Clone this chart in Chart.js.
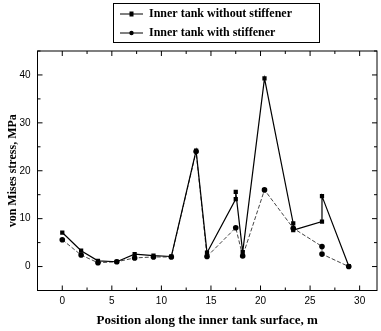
<!DOCTYPE html>
<html>
<head>
<meta charset="utf-8">
<script src="https://cdn.jsdelivr.net/npm/chart.js@4"></script>
<style>
  body { margin: 0; background: #fff; }
  #wrap { width: 381px; height: 331px; }
</style>
</head>
<body>
<div id="wrap"><canvas id="stress-chart" width="381" height="331"></canvas></div>
<script>
// positions along the surface (m) and von Mises stress (MPa)
var xWithout = [0, 1.9, 3.6, 5.5, 7.3, 9.2, 11.0, 13.5, 14.6, 17.5, 17.5, 18.2, 20.4, 23.3, 23.3, 26.2, 26.2, 28.9];
var yWithout = [7.1, 3.3, 1.2, 1.0, 2.6, 2.3, 2.1, 24.2, 2.9, 14.1, 15.6, 3.0, 39.3, 9.0, 7.6, 9.4, 14.7, 0.1];
var xWith = [0, 1.9, 3.6, 5.5, 7.3, 9.2, 11.0, 13.5, 14.6, 17.5, 18.2, 20.4, 23.3, 26.2, 26.2, 28.9];
var yWith = [5.6, 2.4, 0.8, 1.0, 1.8, 2.0, 2.0, 24.0, 2.1, 8.1, 2.2, 16.0, 8.0, 4.2, 2.6, 0.0];
var seriesNames = ["Inner tank without stiffener", "Inner tank with stiffener"];
var xTicks = [0, 5, 10, 15, 20, 25, 30];
var yTicks = [0, 10, 20, 30, 40];

function pts(xs, ys) {
    return xs.map(function (x, i) { return {x: x, y: ys[i]}; });
}

// frame, inward ticks and the boxed legend
var framePlugin = {
    id: 'frame',
    afterDraw: function (chart) {
        var ctx = chart.ctx, a = chart.chartArea;
        var sx = chart.scales.x, sy = chart.scales.y;
        ctx.save();
        ctx.strokeStyle = '#000';
        ctx.lineWidth = 1;
        ctx.strokeRect(a.left, a.top, a.right - a.left, a.bottom - a.top);
        ctx.beginPath();
        for (var v = -2.5; v <= sx.max; v += 2.5) {
            if (v < sx.min) continue;
            var len = (v % 5 === 0) ? 5 : 3;
            var px = sx.getPixelForValue(v);
            ctx.moveTo(px, a.bottom); ctx.lineTo(px, a.bottom - len);
            ctx.moveTo(px, a.top); ctx.lineTo(px, a.top + len);
        }
        for (var w = -5; w <= sy.max; w += 5) {
            var l2 = (w % 10 === 0) ? 5 : 3;
            var py = sy.getPixelForValue(w);
            ctx.moveTo(a.left, py); ctx.lineTo(a.left + l2, py);
            ctx.moveTo(a.right, py); ctx.lineTo(a.right - l2, py);
        }
        ctx.stroke();

        // legend
        ctx.fillStyle = '#fff';
        ctx.fillRect(113, 3, 206, 39);
        ctx.strokeRect(113.5, 3.5, 206, 39);
        var rows = [14, 33];
        chart.data.datasets.forEach(function (ds, i) {
            var y = rows[i];
            ctx.beginPath();
            ctx.strokeStyle = '#000';
            ctx.lineWidth = 1;
            ctx.moveTo(120, y); ctx.lineTo(143, y);
            ctx.stroke();
            ctx.fillStyle = '#000';
            if (i === 0) {
                ctx.fillRect(129.5, y - 2.5, 4, 5);
            } else {
                ctx.beginPath();
                ctx.arc(131.5, y, 2.2, 0, Math.PI * 2);
                ctx.fill();
            }
            ctx.font = 'bold 12px "Liberation Serif"';
            ctx.textBaseline = 'middle';
            ctx.textAlign = 'left';
            ctx.fillText(ds.label, 149, y);
        });
        ctx.restore();
    }
};

var ctx = document.getElementById('stress-chart').getContext('2d');
var chart = new Chart(ctx, {
    type: 'scatter',
    data: {
        datasets: [{
            label: seriesNames[0],
            data: pts(xWithout, yWithout),
            showLine: true,
            borderColor: '#000',
            borderWidth: 1.2,
            backgroundColor: '#000',
            pointStyle: 'rect',
            pointRadius: 3,
            pointBorderWidth: 0
        }, {
            label: seriesNames[1],
            data: pts(xWith, yWith),
            showLine: true,
            borderColor: '#444',
            borderWidth: 1,
            borderDash: [4, 2],
            backgroundColor: '#000',
            pointStyle: 'circle',
            pointRadius: 2.8,
            pointBorderWidth: 0
        }]
    },
    options: {
        responsive: false,
        animation: false,
        layout: {padding: {top: 51, right: 1, left: 0, bottom: 0}},
        plugins: {legend: {display: false}, tooltip: {enabled: false}},
        scales: {
            x: {
                type: 'linear',
                min: -2.5,
                max: 31.75,
                afterFit: function (s) { s.height = 40.5; },
                afterBuildTicks: function (s) { s.ticks = xTicks.map(function (v) { return {value: v}; }); },
                grid: {display: false, drawTicks: false},
                border: {display: false},
                ticks: {color: '#000', padding: 5, maxRotation: 0, font: {family: 'Liberation Sans', size: 10}},
                title: {
                    display: true,
                    text: 'Position along the inner tank surface, m',
                    color: '#000',
                    padding: {top: 0, bottom: 3},
                    font: {family: 'Liberation Serif', size: 13, weight: 'bold'}
                }
            },
            y: {
                type: 'linear',
                min: -5,
                max: 45,
                afterFit: function (s) { s.width = 37.5; },
                afterBuildTicks: function (s) { s.ticks = yTicks.map(function (v) { return {value: v}; }); },
                grid: {display: false, drawTicks: false},
                border: {display: false},
                ticks: {color: '#000', padding: 7, font: {family: 'Liberation Sans', size: 10}},
                title: {
                    display: true,
                    text: 'von Mises stress, MPa',
                    color: '#000',
                    padding: {top: 6, bottom: 0},
                    font: {family: 'Liberation Serif', size: 12, weight: 'bold'}
                }
            }
        }
    },
    plugins: [framePlugin]
});
</script>
</body>
</html>
